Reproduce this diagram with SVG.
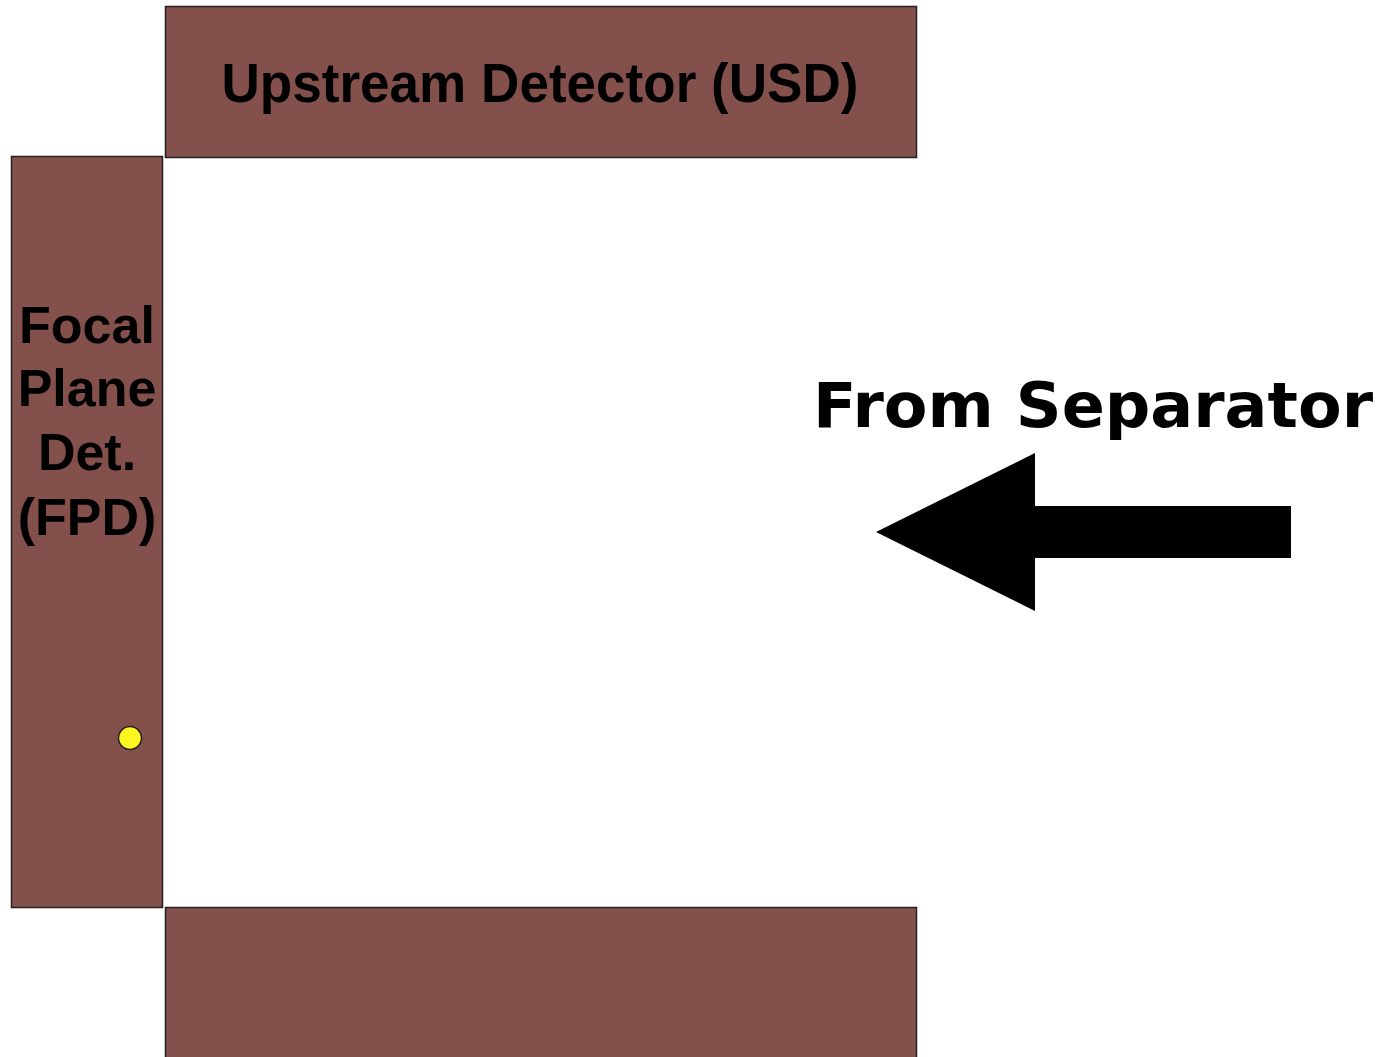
<svg xmlns="http://www.w3.org/2000/svg" width="1391" height="1057" viewBox="0 0 1391 1057">
<style>
.det{fill:#84504b;stroke:#222;stroke-width:1.5}
.lbl{font-family:"Liberation Sans",Arial,sans-serif;font-weight:bold;fill:#000;text-anchor:middle}
.big{font-family:"DejaVu Sans",Verdana,sans-serif;font-weight:bold;fill:#000}
</style>
<rect width="1391" height="1057" fill="#fff"/>
<g id="usd">
<rect class="det" x="165.5" y="6.5" width="751" height="151"/>
<text class="lbl" x="540" y="102" font-size="55" textLength="637" lengthAdjust="spacingAndGlyphs">Upstream Detector (USD)</text>
</g>
<g id="fpd">
<rect class="det" x="11.5" y="156.5" width="151" height="751"/>
<text class="lbl" x="87" y="343" font-size="52">Focal</text>
<text class="lbl" x="87" y="406" font-size="52">Plane</text>
<text class="lbl" x="87" y="470" font-size="52">Det.</text>
<text class="lbl" x="87" y="535" font-size="52">(FPD)</text>
<circle cx="130" cy="738" r="11.5" fill="#fff520" stroke="#222" stroke-width="1.5"/>
</g>
<g id="bottom">
<rect class="det" x="165.5" y="907.5" width="751" height="160"/>
</g>
<g id="connectors">
<polygon points="876,532 1035,453 1035,506 1291,506 1291,558 1035,558 1035,611" fill="#000"/>
</g>
<g id="label">
<text class="big" x="813" y="427" font-size="63" textLength="560" lengthAdjust="spacingAndGlyphs">From Separator</text>
</g>
</svg>
